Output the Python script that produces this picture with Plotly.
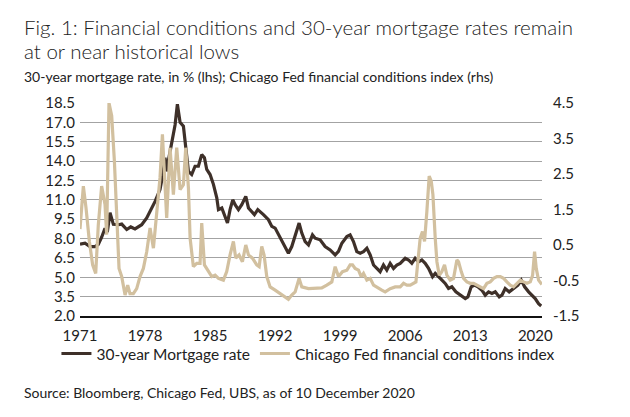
import plotly.graph_objects as go

# 30-year mortgage rate (lhs, %)
mort_year = [1971.00, 1971.54, 1972.08, 1972.62, 1972.97, 1973.33, 1973.69, 1973.94, 1974.23, 1974.59,
             1975.13, 1975.49, 1976.03, 1976.46, 1976.92, 1977.64, 1978.18, 1978.72, 1979.08, 1979.61,
             1979.90, 1980.15, 1980.33, 1980.50, 1980.87, 1981.23, 1981.48, 1981.77, 1982.13, 1982.38,
             1982.67, 1983.02, 1983.38, 1983.74, 1984.10, 1984.39, 1984.64, 1985.00, 1985.36, 1985.72,
             1985.90, 1986.26, 1986.61, 1986.87, 1987.15, 1987.44, 1987.69, 1988.05, 1988.41, 1988.84,
             1989.13, 1989.49, 1989.77, 1990.13, 1990.38, 1990.74, 1991.28, 1991.64, 1992.00, 1992.36,
             1992.72, 1993.07, 1993.43, 1993.79, 1994.15, 1994.58, 1994.87, 1995.23, 1995.59, 1996.02,
             1996.31, 1996.84, 1997.38, 1997.92, 1998.46, 1998.82, 1999.18, 1999.72, 2000.07, 2000.43,
             2000.79, 2001.15, 2001.51, 2001.87, 2002.23, 2002.59, 2002.95, 2003.30, 2003.66, 2004.02,
             2004.38, 2004.74, 2005.10, 2005.46, 2006.00, 2006.36, 2006.71, 2007.07, 2007.43, 2007.79,
             2008.15, 2008.51, 2008.94, 2009.23, 2009.77, 2010.30, 2010.66, 2011.02, 2011.45, 2011.92,
             2012.46, 2012.74, 2013.10, 2013.46, 2013.82, 2014.25, 2014.61, 2014.97, 2015.33, 2015.69,
             2016.12, 2016.41, 2016.76, 2017.19, 2017.66, 2018.13, 2018.49, 2018.85, 2019.28, 2019.64,
             2019.99, 2020.35, 2020.64]
mort_rate = [7.56, 7.64, 7.38, 7.38, 7.55, 8.10, 8.80, 8.50, 10.00, 9.10,
             9.07, 9.12, 8.70, 8.90, 8.75, 9.07, 9.59, 10.37, 10.88, 11.80,
             12.90, 14.26, 13.20, 14.00, 15.30, 16.80, 18.40, 17.00, 16.70, 15.30,
             13.20, 12.96, 13.60, 13.60, 14.50, 14.26, 13.35, 12.96, 12.20, 11.15,
             10.24, 10.37, 9.72, 9.20, 10.24, 11.00, 10.63, 10.24, 10.63, 11.27,
             10.37, 10.10, 9.85, 10.24, 10.10, 9.85, 9.46, 8.94, 8.81, 8.29,
             7.90, 7.38, 6.86, 7.38, 8.29, 9.20, 8.42, 7.77, 7.51, 8.29,
             8.03, 7.90, 7.38, 7.12, 6.73, 7.00, 7.64, 8.16, 8.29, 7.77,
             6.99, 6.86, 6.99, 7.25, 6.73, 5.95, 5.69, 5.43, 5.95, 5.56,
             6.08, 5.69, 5.95, 6.08, 6.47, 6.34, 6.08, 6.47, 6.20, 6.34,
             6.08, 5.69, 5.04, 5.30, 4.91, 4.52, 4.13, 4.26, 3.87, 3.61,
             3.35, 3.48, 4.26, 4.39, 4.26, 4.00, 3.61, 3.87, 3.74, 3.87,
             3.48, 3.61, 4.13, 3.87, 4.13, 4.39, 4.78, 4.26, 3.87, 3.61,
             3.35, 2.96, 2.78]

# Chicago Fed financial conditions index (rhs)
nfci_year = [1971.00, 1971.36, 1971.65, 1972.01, 1972.36, 1972.69, 1972.97, 1973.33, 1973.69, 1973.87,
             1974.12, 1974.41, 1974.70, 1974.95, 1975.20, 1975.49, 1975.85, 1976.13, 1976.38, 1976.74,
             1977.10, 1977.46, 1977.82, 1978.18, 1978.54, 1978.90, 1979.26, 1979.61, 1979.87, 1980.15,
             1980.33, 1980.69, 1981.05, 1981.41, 1981.77, 1982.13, 1982.38, 1982.67, 1982.85, 1983.20,
             1983.56, 1983.92, 1984.10, 1984.39, 1984.82, 1985.18, 1985.54, 1985.90, 1986.43, 1986.79,
             1987.15, 1987.51, 1987.76, 1988.12, 1988.48, 1988.84, 1989.13, 1989.56, 1990.02, 1990.28,
             1990.56, 1990.81, 1991.10, 1991.46, 1992.00, 1992.54, 1993.07, 1993.43, 1993.79, 1994.15,
             1994.58, 1994.87, 1995.59, 1996.31, 1997.02, 1997.56, 1998.10, 1998.46, 1998.82, 1999.25,
             1999.72, 2000.07, 2000.33, 2000.61, 2000.97, 2001.26, 2001.51, 2001.87, 2002.23, 2002.59,
             2003.13, 2003.48, 2003.84, 2004.38, 2004.92, 2005.46, 2005.82, 2006.18, 2006.54, 2006.89,
             2007.15, 2007.36, 2007.61, 2007.86, 2008.08, 2008.33, 2008.58, 2008.80, 2008.98, 2009.23,
             2009.41, 2009.66, 2009.94, 2010.23, 2010.48, 2010.84, 2011.20, 2011.56, 2011.74, 2012.03,
             2012.28, 2012.64, 2013.00, 2013.36, 2013.71, 2014.07, 2014.43, 2014.79, 2015.15, 2015.51,
             2015.87, 2016.23, 2016.59, 2016.94, 2017.30, 2017.66, 2018.02, 2018.38, 2018.74, 2019.10,
             2019.46, 2019.71, 2019.92, 2020.10, 2020.35, 2020.71]
nfci_val = [0.95, 2.16, 1.54, 0.60, -0.06, -0.30, 1.07, 2.16, 1.64, 0.79,
            4.50, 4.14, 2.87, 1.35, -0.16, -0.39, -0.91, -0.63, -0.87, -0.87,
            -0.73, -0.39, -0.16, 0.31, 0.98, 0.41, 1.54, 2.39, 3.62, 1.92,
            1.26, 3.24, 1.92, 3.24, 2.06, 2.20, 3.24, 2.10, 0.69, -0.11,
            -0.02, -0.02, 1.12, -0.06, -0.25, -0.39, -0.35, -0.44, -0.49, -0.25,
            0.22, 0.60, 0.13, 0.22, 0.03, 0.50, 0.22, 0.13, -0.06, -0.11,
            0.46, 0.22, -0.39, -0.68, -0.77, -0.87, -0.96, -1.03, -0.91, -0.82,
            -0.44, -0.68, -0.73, -0.73, -0.71, -0.63, -0.54, -0.11, -0.39, -0.25,
            -0.21, -0.06, -0.06, -0.16, -0.21, -0.39, -0.30, -0.49, -0.44, -0.63,
            -0.73, -0.77, -0.82, -0.73, -0.68, -0.68, -0.58, -0.63, -0.63, -0.58,
            -0.54, 0.03, 0.69, 0.88, 0.60, 1.45, 2.44, 2.30, 1.92, 0.69,
            0.03, -0.35, -0.25, -0.06, -0.35, -0.49, -0.44, 0.08, 0.03, -0.25,
            -0.44, -0.54, -0.58, -0.58, -0.63, -0.68, -0.73, -0.58, -0.54, -0.44,
            -0.39, -0.39, -0.44, -0.54, -0.63, -0.68, -0.58, -0.49, -0.54, -0.58,
            -0.54, -0.35, 0.31, -0.16, -0.49, -0.61]

x_ticks = [1971, 1978, 1985, 1992, 1999, 2006, 2013, 2020]
left_ticks = [2.0, 3.5, 5.0, 6.5, 8.0, 9.5, 11.0, 12.5, 14.0, 15.5, 17.0, 18.5]
right_ticks = [-1.5, -0.5, 0.5, 1.5, 2.5, 3.5, 4.5]

DARK = "#3e3029"
BEIGE = "#d2c09f"
FONT = "Lato"
TXT = "#222222"

fig = go.Figure()
fig.add_trace(go.Scatter(x=mort_year, y=mort_rate, mode="lines", name="30-year Mortgage rate",
                         line=dict(color=DARK, width=3.2), yaxis="y"))
fig.add_trace(go.Scatter(x=nfci_year, y=nfci_val, mode="lines",
                         name="Chicago Fed financial conditions index",
                         line=dict(color=BEIGE, width=3.2), yaxis="y2"))

fig.update_layout(
    width=630, height=417,
    margin=dict(l=80, r=88, t=103, b=101),
    paper_bgcolor="white", plot_bgcolor="white",
    font=dict(family=FONT, color=TXT, size=15),
    showlegend=True,
    legend=dict(orientation="h", x=-0.051, xanchor="left", y=-0.178, yanchor="middle",
                font=dict(size=15.5, color=TXT), traceorder="normal",
                itemwidth=30, bgcolor="rgba(0,0,0,0)"),
    xaxis=dict(range=[1971, 2020.72], tickvals=x_ticks, ticktext=[str(t) for t in x_ticks],
               showgrid=False, zeroline=False, showline=True, linecolor="#111111", linewidth=2,
               ticks="", ticklabelstandoff=5, tickfont=dict(size=15, color=TXT)),
    yaxis=dict(range=[2.0, 18.5], tickvals=left_ticks, ticktext=[f"{v:.1f}" for v in left_ticks],
               showgrid=True, gridcolor="#a3a3a3", gridwidth=1.3, zeroline=False, showline=False,
               ticks="", ticklabelstandoff=4, tickfont=dict(size=15, color=TXT)),
    yaxis2=dict(range=[-1.5, 4.5], tickvals=right_ticks, ticktext=[f"{v:.1f}" for v in right_ticks],
                overlaying="y", side="right", showgrid=False, zeroline=False, showline=False,
                ticks="", ticklabelstandoff=10, tickfont=dict(size=15, color=TXT)),
)

ann = [
    dict(text="Fig. 1: Financial conditions and 30-year mortgage rates remain", x=22, y=26.5, size=20.5),
    dict(text="at or near historical lows", x=22, y=51.5, size=20.5),
    dict(text="30-year mortgage rate, in % (lhs); Chicago Fed financial conditions index (rhs)", x=22, y=76.5, size=14),
    dict(text="Source: Bloomberg, Chicago Fed, UBS, as of 10 December 2020", x=22, y=392, size=14),
]
for a in ann:
    fig.add_annotation(text=a["text"], xref="paper", yref="paper",
                       x=(a["x"] - 80) / 462.0, y=(316 - a["y"]) / 213.0,
                       xanchor="left", yanchor="middle", showarrow=False,
                       font=dict(family=FONT, size=a["size"], color=TXT, weight=300 if a["size"] > 20 else 400))

fig.write_html("out.html", config={"displayModeBar": False},
               post_script="document.body.style.margin='0';document.body.style.padding='0';")
